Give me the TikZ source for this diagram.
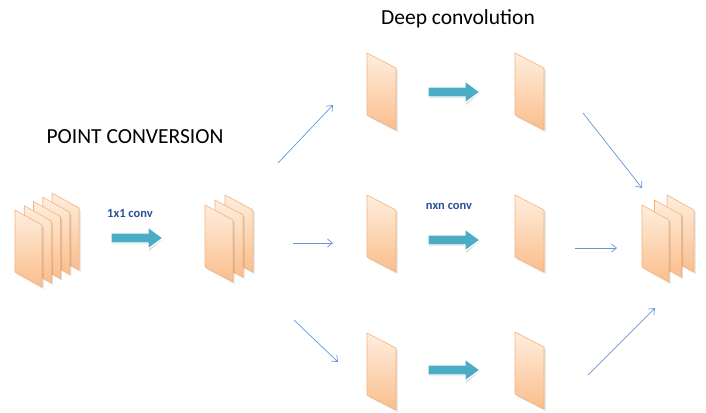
\documentclass[tikz,border=0pt]{standalone}
\usepackage{fontspec}
\setmainfont{Carlito}
\usetikzlibrary{arrows.meta}
\definecolor{sheetedge}{RGB}{247,178,122}
\definecolor{sheettop}{RGB}{254,238,222}
\definecolor{sheetbot}{RGB}{250,190,140}
\definecolor{teal}{RGB}{75,172,198}
\definecolor{thinblue}{RGB}{100,150,215}
\definecolor{labelblue}{RGB}{40,80,150}
\tikzset{
  sheetbox/.style={draw=sheetedge, line width=0.6pt, top color=sheettop, bottom color=sheetbot, line join=round},
  sheetshadow/.style={fill=black, opacity=0.12, draw=none},
  blockarrow/.style={fill=teal, draw=white, line width=1.2pt, line join=miter},
  thinarrow/.style={draw=thinblue, line width=0.7pt, -{Straight Barb[length=5pt,width=8pt]}},
  convlabel/.style={font=\bfseries\fontsize{12.5}{14}\selectfont, text=labelblue, inner sep=0pt},
  titlelabel/.style={font=\fontsize{21.5}{24}\selectfont, text=black, inner sep=0pt}
}
\newcommand{\mysheet}[3]{%
  \fill[sheetshadow] (#1+1.5,#2+2) -- ++(#3,15) -- ++(0,62) -- ++(-#3,-15) -- cycle;
  \path[sheetbox] (#1,#2) -- ++(#3,15) -- ++(0,62) -- ++(-#3,-15) -- cycle;}
\newcommand{\myblock}[3]{% x start, y center, name
  \fill[black,opacity=0.15] (#1+1,#2-4) -- ++(37,0) -- ++(0,-7) -- ++(14,12) -- ++(-14,12) -- ++(0,-7) -- ++(-37,0) -- cycle;
  \path[blockarrow] (#1,#2-5) -- ++(37,0) -- ++(0,-6) -- ++(15,11) -- ++(-15,11) -- ++(0,-6) -- ++(-37,0) -- cycle;
  \coordinate (#3) at (#1+26,#2);}
\begin{document}
\begin{tikzpicture}[x=1pt,y=-1pt]
\useasboundingbox (0,0) rectangle (706,412);
% titles
\node[titlelabel] (pc) at (135,137) {POINT CONVERSION};
\node[titlelabel] (dc) at (458,19) {Deep convolution};
% left stack of 5
\foreach \i in {4,3,2,1,0} {\mysheet{15+9.25*\i}{210-4.25*\i}{27}}
% middle stack of 3
\foreach \i in {2,1,0} {\mysheet{205+10*\i}{205-5*\i}{28}}
% right stack of 3
\foreach \i in {2,1,0} {\mysheet{642+12.5*\i}{205-5*\i}{27}}
% single sheets
\mysheet{367}{53}{29}
\mysheet{515}{53}{29}
\mysheet{367}{195}{29}
\mysheet{515}{195}{29}
\mysheet{367}{333}{29}
\mysheet{515}{332}{29}
% block arrows
\myblock{111}{238}{b1}
\myblock{428}{92}{b2}
\myblock{428}{240}{b3}
\myblock{428}{370}{b4}
% labels
\node[convlabel] (l1) at (130,213) {1x1 conv};
\node[convlabel] (l2) at (449,206) {nxn conv};
% thin arrows
\coordinate (a1s) at (278,163); \coordinate (a1e) at (333,105);
\coordinate (a2s) at (293,243); \coordinate (a2e) at (333,243);
\coordinate (a3s) at (294,320); \coordinate (a3e) at (338,362);
\coordinate (a4s) at (583,113); \coordinate (a4e) at (642,188);
\coordinate (a5s) at (575,248); \coordinate (a5e) at (617,248);
\coordinate (a6s) at (588,375); \coordinate (a6e) at (655,308);
\draw[thinarrow] (a1s) -- (a1e);
\draw[thinarrow] (a2s) -- (a2e);
\draw[thinarrow] (a3s) -- (a3e);
\draw[thinarrow] (a4s) -- (a4e);
\draw[thinarrow] (a5s) -- (a5e);
\draw[thinarrow] (a6s) -- (a6e);
\end{tikzpicture}
\end{document}
